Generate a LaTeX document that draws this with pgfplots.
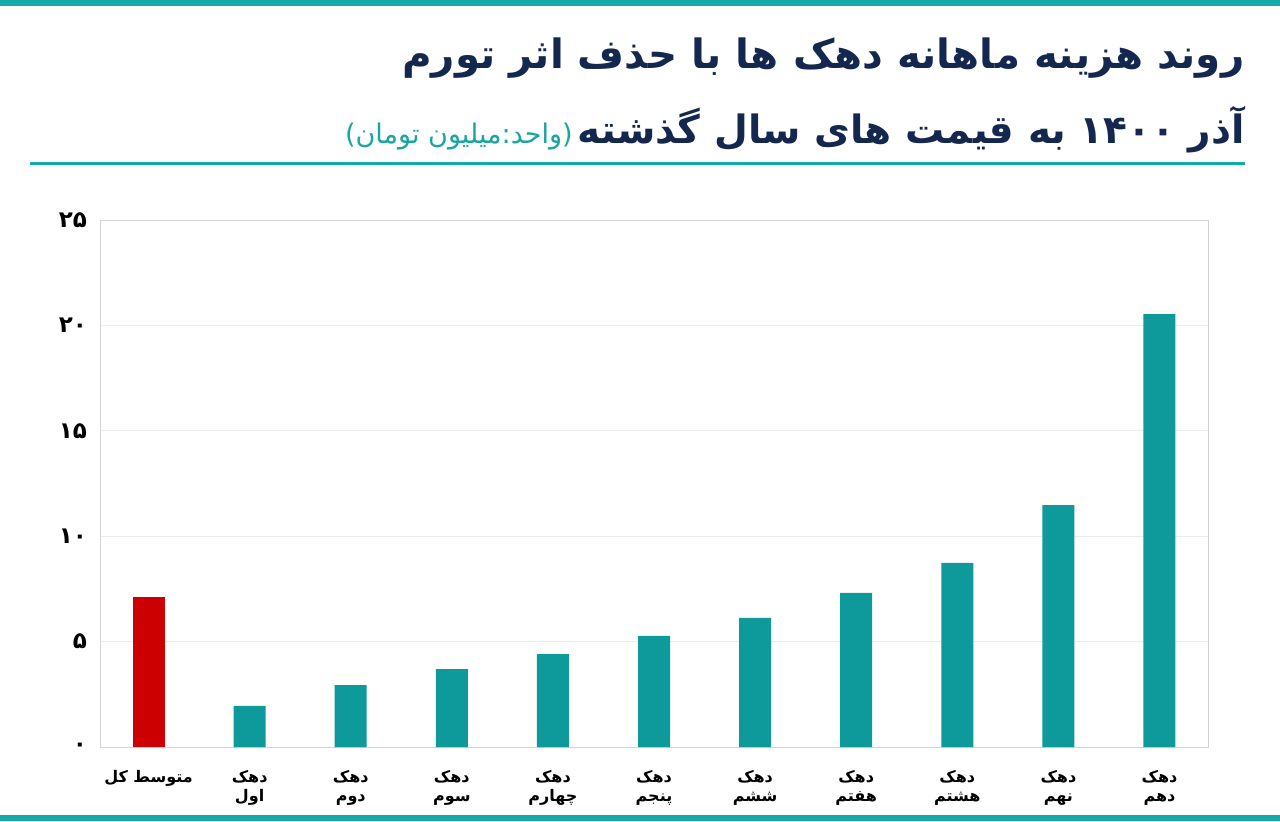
\documentclass[border=0pt]{standalone}
\usepackage{pgfplots}
\pgfplotsset{compat=1.18}
\usepackage{fontspec}
\TeXXeTstate=1
\newfontfamily\fa[Script=Arabic]{DejaVu Sans}
\definecolor{navy}{HTML}{14284F}
\definecolor{tealbar}{HTML}{0E9A9A}
\definecolor{tealline}{HTML}{12AAAA}
\definecolor{tealtxt}{HTML}{1AA5A0}
\definecolor{redbar}{HTML}{CC0000}
\begin{document}
\begin{tikzpicture}[x=1pt,y=1pt]
\fill[white] (0,0) rectangle (640,410.5);
\fill[tealline] (0,407.5) rectangle (640,410.5);
\fill[tealline] (0,0) rectangle (640,3);
\draw[tealline, line width=1.5pt] (15,328.5) -- (622.5,328.5);
\node[anchor=east, text=navy, inner sep=0pt] at (622.5,381.5) {\fa\bfseries\fontsize{20.2}{23}\selectfont\beginR روند هزینه ماهانه دهک ها با حذف اثر تورم\endR};
\node[anchor=east, text=navy, inner sep=0pt] (l2) at (622.5,345.5) {\fa\bfseries\fontsize{19.5}{22}\selectfont\beginR آذر ۱۴۰۰ به قیمت های سال گذشته\endR};
\node[anchor=base east, text=tealtxt, inner sep=0pt] at ([xshift=-2pt]l2.base west) {\fa\fontsize{13.5}{15}\selectfont\beginR (واحد:میلیون تومان)\endR};
\begin{axis}[
  at={(50pt,37pt)}, anchor=south west, scale only axis,
  width=554pt, height=263.5pt,
  ymin=0, ymax=25, xmin=-0.48, xmax=10.48,
  ytick={0,5,10,15,20,25},
  yticklabels={۰,۵,۱۰,۱۵,۲۰,۲۵},
  yticklabel style={font=\fa\bfseries\fontsize{11.5}{13}\selectfont, xshift=-3pt},
  xtick={0,1,2,3,4,5,6,7,8,9,10},
  xticklabels={{\beginR متوسط کل\endR},
    {\beginR دهک\endR\\\beginR اول\endR},
    {\beginR دهک\endR\\\beginR دوم\endR},
    {\beginR دهک\endR\\\beginR سوم\endR},
    {\beginR دهک\endR\\\beginR چهارم\endR},
    {\beginR دهک\endR\\\beginR پنجم\endR},
    {\beginR دهک\endR\\\beginR ششم\endR},
    {\beginR دهک\endR\\\beginR هفتم\endR},
    {\beginR دهک\endR\\\beginR هشتم\endR},
    {\beginR دهک\endR\\\beginR نهم\endR},
    {\beginR دهک\endR\\\beginR دهم\endR}},
  xticklabel style={font=\fa\bfseries\fontsize{8}{9.5}\selectfont, align=center, yshift=-4pt},
  ymajorgrids, grid style={gray!15},
  axis line style={gray!35},
  x axis line style={gray!60},
  tick style={draw=none},
  ybar, bar width=16pt,
]
\addplot[fill=redbar, draw=none, bar shift=0pt] coordinates {(0,7.12)};
\addplot[fill=tealbar, draw=none, bar shift=0pt] coordinates {
(1,1.95) (2,2.94) (3,3.70) (4,4.41) (5,5.27) (6,6.12) (7,7.31) (8,8.73) (9,11.48) (10,20.54)};
\end{axis}
\end{tikzpicture}
\end{document}
